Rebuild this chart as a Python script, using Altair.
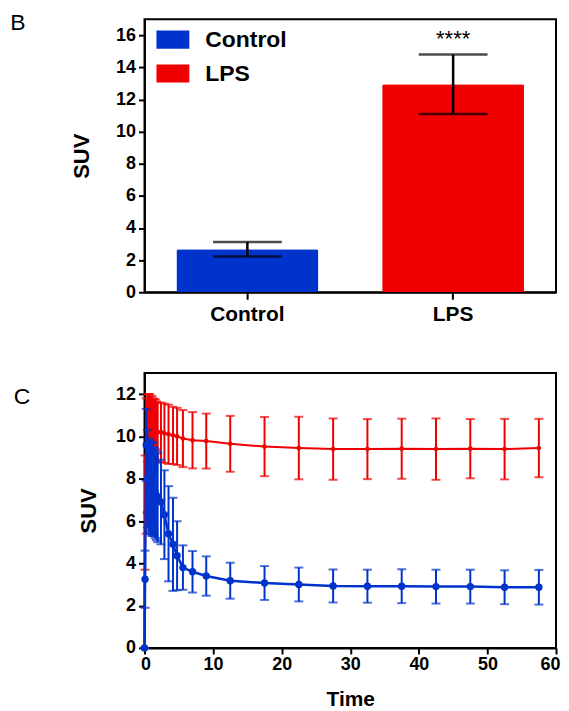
import altair as alt
import pandas as pd

FONT = "Liberation Sans"
BLUE = "#0033CC"
RED = "#F00000"

# ---- Panel B data ----
groups = ["Control", "LPS"]
bar_means = [2.68, 12.95]
bar_errs = [0.45, 1.85]
star_text = ["", "****"]
star_y = [0, 15.75]

# ---- Panel C data ----
times = [0, 0.08, 0.25, 0.42, 0.58, 0.75, 0.92, 1.08, 1.25, 1.42, 1.58, 1.75, 1.92,
         2.4, 2.9, 3.5, 4.15, 4.75, 5.6, 7, 9, 12.5, 17.5, 22.5, 27.5, 32.5, 37.5,
         42.5, 47.5, 52.5, 57.5]
control_mean = [0, 3.25, 9.6, 8.0, 7.7, 7.6, 7.6, 7.5, 7.5, 7.4, 7.3, 7.2, 7.1,
                6.9, 6.3, 5.4, 4.9, 4.36, 3.8, 3.6, 3.4, 3.18, 3.07, 3.0, 2.93, 2.92, 2.92,
                2.9, 2.9, 2.87, 2.87]
control_err = [0, 1.35, 1.7, 2.3, 2.2, 2.2, 2.2, 2.2, 2.2, 2.1, 2.1, 2.1, 2.1,
               2.0, 2.1, 2.25, 2.2, 1.63, 1.05, 0.98, 0.93, 0.85, 0.8, 0.8, 0.78, 0.78, 0.8,
               0.8, 0.8, 0.8, 0.82]
lps_mean = [0, 6.4, 8.6, 10.4, 10.5, 10.5, 10.4, 10.4, 10.3, 10.3, 10.3, 10.2, 10.2,
            10.2, 10.15, 10.1, 10.05, 10.0, 9.9, 9.82, 9.78, 9.65, 9.52, 9.45, 9.4, 9.4, 9.42,
            9.4, 9.42, 9.4, 9.45]
lps_err = [0, 2.7, 3.2, 1.6, 1.5, 1.5, 1.5, 1.5, 1.5, 1.45, 1.45, 1.45, 1.4,
           1.4, 1.4, 1.4, 1.35, 1.35, 1.35, 1.33, 1.3, 1.32, 1.4, 1.48, 1.45, 1.42, 1.42,
           1.45, 1.4, 1.43, 1.38]

bar_df = pd.DataFrame({"group": groups, "mean": bar_means, "err": bar_errs,
                       "star": star_text, "star_y": star_y})
bar_df["lo"] = bar_df["mean"] - bar_df["err"]
bar_df["hi"] = bar_df["mean"] + bar_df["err"]

axis_common = dict(labelFont=FONT, labelFontWeight="bold", labelColor="black",
                   titleFont=FONT, titleFontWeight="bold", titleColor="black",
                   domainColor="black", domainWidth=2, tickColor="black", tickWidth=2,
                   grid=False, labelOverlap=False)

xb_axis = alt.Axis(title=None, labelAngle=0, labelFontSize=21, tickSize=7,
                   labelPadding=4, **axis_common)
xb = alt.X("group:N", sort=groups,
           scale=alt.Scale(paddingInner=0.31, paddingOuter=0.155), axis=xb_axis)
yb_scale = alt.Scale(domain=[0, 17], nice=False)
yb_axis = alt.Axis(values=list(range(0, 17, 2)), title="SUV", titleFontSize=22,
                   titlePadding=22, labelFontSize=18, tickSize=6, labelPadding=3,
                   labelFlush=False, **axis_common)

bars = alt.Chart(bar_df).mark_bar(cornerRadius=2).encode(
    x=xb,
    y=alt.Y("mean:Q", scale=yb_scale, axis=yb_axis),
    color=alt.Color("group:N", scale=alt.Scale(domain=groups, range=[BLUE, RED]),
                    legend=alt.Legend(title=None, orient="none", legendX=12, legendY=4,
                                      symbolType="M-1,-0.55H1V0.55H-1Z", symbolSize=1089,
                                      symbolStrokeWidth=0, symbolOpacity=1,
                                      labelFontSize=23, labelFontWeight="bold",
                                      labelFont=FONT, labelColor="black",
                                      labelOffset=16, rowPadding=5)),
)
err_rule = alt.Chart(bar_df).mark_rule(color="black", strokeWidth=2.5).encode(
    x=xb, y=alt.Y("lo:Q", scale=yb_scale, axis=yb_axis), y2="hi:Q")
cap_lo = alt.Chart(bar_df).mark_tick(color="black", thickness=2.5, size=69,
                                     orient="horizontal").encode(
    x=xb, y=alt.Y("lo:Q", scale=yb_scale, axis=yb_axis))
cap_hi = alt.Chart(bar_df).mark_tick(color="black", thickness=2.5, size=69,
                                     orient="horizontal").encode(
    x=xb, y=alt.Y("hi:Q", scale=yb_scale, axis=yb_axis))
stars = alt.Chart(bar_df).mark_text(font=FONT, fontSize=22, color="black",
                                    baseline="middle").encode(
    x=xb, y=alt.Y("star_y:Q", scale=yb_scale, axis=yb_axis), text="star:N")
label_b = alt.Chart(pd.DataFrame({"label": ["B"]})).mark_text(
    font=FONT, fontSize=23, color="black", baseline="middle", align="center").encode(
    text="label:N", x=alt.value(-127), y=alt.value(4))

top = alt.layer(bars, err_rule, cap_lo, cap_hi, stars, label_b).properties(
    width=413, height=274)

# ---- Panel C ----
def series_df(mean, err):
    d = pd.DataFrame({"time": times, "mean": mean, "err": err})
    d["lo"] = d["mean"] - d["err"]
    d["hi"] = d["mean"] + d["err"]
    return d

xs = alt.Scale(domain=[0, 60], nice=False)
ys = alt.Scale(domain=[0, 13], nice=False)
x_axis = alt.Axis(values=list(range(0, 61, 10)), title="Time", titleFontSize=21,
                  titlePadding=15, labelFontSize=18, tickSize=6, labelPadding=2,
                  labelFlush=True, labelFlushOffset=4, **axis_common)
y_axis = alt.Axis(values=list(range(0, 13, 2)), title="SUV", titleFontSize=22,
                  titlePadding=15, labelFontSize=18, tickSize=6, labelPadding=3,
                  labelFlush=False, **axis_common)

def series_layers(d, color, pt_size, lw):
    base = alt.Chart(d)
    x = alt.X("time:Q", scale=xs, axis=x_axis)
    rule = base.mark_rule(color=color, strokeWidth=2).encode(
        x=x, y=alt.Y("lo:Q", scale=ys, axis=y_axis), y2="hi:Q")
    clo = base.mark_tick(color=color, thickness=2, size=9, orient="horizontal").encode(
        x=x, y=alt.Y("lo:Q", scale=ys, axis=y_axis))
    chi = base.mark_tick(color=color, thickness=2, size=9, orient="horizontal").encode(
        x=x, y=alt.Y("hi:Q", scale=ys, axis=y_axis))
    line = base.mark_line(color=color, strokeWidth=lw).encode(
        x=x, y=alt.Y("mean:Q", scale=ys, axis=y_axis))
    pts = base.mark_circle(color=color, size=pt_size, opacity=1).encode(
        x=x, y=alt.Y("mean:Q", scale=ys, axis=y_axis))
    return [rule, clo, chi, line, pts]

lps_layers = series_layers(series_df(lps_mean, lps_err), RED, 22, 2)
ctrl_layers = series_layers(series_df(control_mean, control_err), BLUE, 55, 2.5)
label_c = alt.Chart(pd.DataFrame({"label": ["C"]})).mark_text(
    font=FONT, fontSize=23, color="black", baseline="middle", align="center").encode(
    text="label:N", x=alt.value(-123), y=alt.value(24))

bottom = alt.layer(*lps_layers, *ctrl_layers, label_c).properties(width=413, height=276)

chart = alt.vconcat(top, bottom, spacing=47).properties(
    padding={"left": 1, "top": 2, "right": 0, "bottom": 2},
    background="white").configure_view(stroke="black", strokeWidth=2, strokeOpacity=1)

chart.save("out.html", embed_options={"renderer": "svg", "actions": False})
